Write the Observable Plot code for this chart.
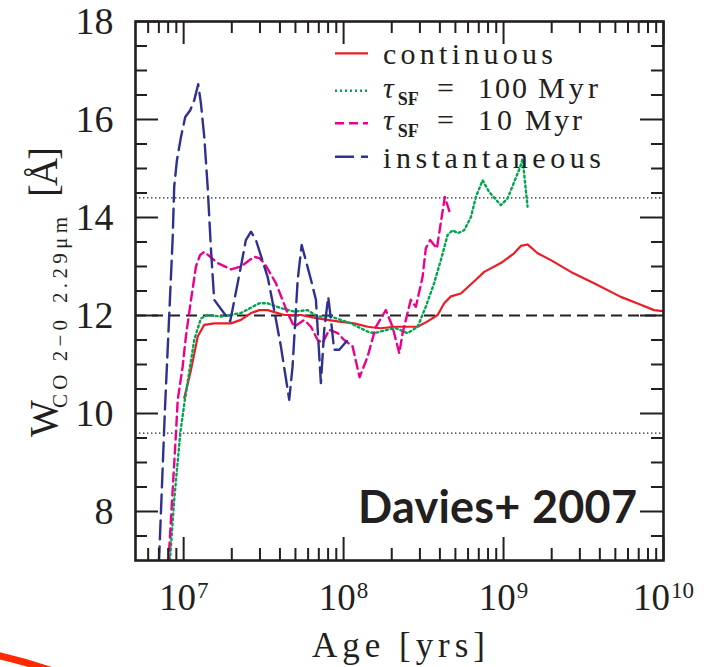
<!DOCTYPE html>
<html>
<head>
<meta charset="utf-8">
<script src="https://cdn.jsdelivr.net/npm/d3@7"></script>
<script src="https://cdn.jsdelivr.net/npm/@observablehq/plot@0.6"></script>
<style>
  html, body { margin: 0; padding: 0; background: #fff; }
  #chart { position: relative; width: 724px; height: 667px; overflow: hidden; }
  #chart svg.deco { position: absolute; left: 0; top: 0; pointer-events: none; }
</style>
</head>
<body>
<div id="chart"></div>
<script>
// CO 2-0 (2.29 micron) equivalent width vs. age for four star-formation histories.
// Ages are given as log10(age / yr); widths in Angstrom.

const continuousLogAge = [7.004, 7.046, 7.088, 7.129, 7.191, 7.296, 7.358, 7.421, 7.473, 7.525, 7.629, 7.733, 7.838, 7.963, 8.066, 8.150, 8.233, 8.316, 8.463, 8.525, 8.588, 8.629, 8.671, 8.733, 8.827, 8.879, 8.983, 9.066, 9.108, 9.150, 9.213, 9.296, 9.421, 9.566, 9.733, 9.858, 9.941, 10.0];
const continuousW      = [10.32, 10.89, 11.57, 11.81, 11.84, 11.84, 11.91, 12.05, 12.11, 12.11, 12.01, 12.01, 11.94, 11.88, 11.84, 11.77, 11.74, 11.77, 11.77, 11.88, 12.01, 12.25, 12.39, 12.45, 12.73, 12.89, 13.07, 13.27, 13.42, 13.45, 13.27, 13.13, 12.89, 12.66, 12.38, 12.22, 12.11, 12.09];

const tau100LogAge = [6.912, 6.941, 6.979, 7.004, 7.066, 7.108, 7.150, 7.233, 7.358, 7.473, 7.525, 7.608, 7.691, 7.775, 7.838, 7.921, 8.046, 8.150, 8.191, 8.275, 8.327, 8.400, 8.463, 8.514, 8.566, 8.608, 8.650, 8.681, 8.714, 8.754, 8.796, 8.827, 8.869, 8.910, 8.983, 9.025, 9.066, 9.104, 9.119, 9.150];
const tau100W      = [6.9, 8.24, 9.6, 10.2, 11.5, 11.94, 12.01, 11.98, 12.05, 12.25, 12.25, 12.15, 12.08, 12.11, 11.98, 11.98, 11.84, 11.67, 11.64, 11.71, 11.74, 11.64, 11.77, 12.18, 12.66, 13.13, 13.64, 13.74, 13.68, 13.74, 14.01, 14.42, 14.76, 14.52, 14.25, 14.39, 14.72, 15.03, 15.20, 14.22];

const tau10LogAge = [6.904, 6.952, 6.963, 6.994, 7.014, 7.046, 7.077, 7.102, 7.129, 7.213, 7.296, 7.358, 7.441, 7.473, 7.504, 7.577, 7.650, 7.691, 7.754, 7.796, 7.838, 7.869, 7.910, 7.963, 8.004, 8.056, 8.100, 8.150, 8.202, 8.264, 8.306, 8.348, 8.369, 8.420, 8.452, 8.494, 8.514, 8.541, 8.583, 8.633, 8.666];
const tau10W      = [6.9, 9.6, 10.28, 10.96, 11.57, 12.32, 13.00, 13.23, 13.30, 13.07, 12.94, 13.00, 13.20, 13.17, 13.07, 12.66, 12.05, 11.77, 11.91, 11.77, 11.50, 11.44, 11.71, 11.64, 11.50, 11.37, 10.74, 11.16, 11.77, 12.11, 11.77, 11.23, 11.64, 12.32, 12.18, 12.79, 13.37, 13.54, 13.37, 14.42, 14.08];

const instLogAge = [6.845, 6.883, 6.931, 6.941, 6.958, 6.983, 7.010, 7.041, 7.066, 7.091, 7.108, 7.129, 7.150, 7.171, 7.191, 7.291, 7.358, 7.389, 7.421, 7.452, 7.525, 7.566, 7.608, 7.660, 7.681, 7.713, 7.738, 7.796, 7.827, 7.858, 7.879, 7.904, 7.921, 7.941, 7.973, 8.020];
const instW      = [6.9, 10.08, 13.54, 14.63, 15.17, 15.64, 16.05, 16.19, 16.39, 16.72, 16.33, 15.64, 14.63, 13.34, 12.32, 11.88, 13.00, 13.54, 13.71, 13.54, 12.79, 12.11, 11.37, 10.28, 10.96, 12.73, 13.44, 12.73, 12.32, 10.62, 11.71, 12.38, 11.91, 11.30, 11.30, 11.48];

// Reference level (solar-metallicity plateau) and its +/-20% band
const fiducialLevel = [12];
const bandLevels = [9.6, 14.4];

// Axis ticks
const xMajorTicks = [1e7, 1e8, 1e9, 1e10];
const xMinorTicks = [6e6, 7e6, 8e6, 9e6,
                     2e7, 3e7, 4e7, 5e7, 6e7, 7e7, 8e7, 9e7,
                     2e8, 3e8, 4e8, 5e8, 6e8, 7e8, 8e8, 9e8,
                     2e9, 3e9, 4e9, 5e9, 6e9, 7e9, 8e9, 9e9];
const yMajorTicks = [8, 10, 12, 14, 16, 18];
const yMinorTicks = [7.5, 8.5, 9, 9.5, 10.5, 11, 11.5, 12.5, 13, 13.5, 14.5, 15, 15.5, 16.5, 17, 17.5];

const ink = "#231f20";
const serif = "'Liberation Serif', 'DejaVu Serif', serif";

const series = [
  {key: "continuous", logAge: continuousLogAge, w: continuousW, color: "#ed1c24", width: 2.2, dash: null},
  {key: "tau100", logAge: tau100LogAge, w: tau100W, color: "#00a651", width: 2.4, dash: "2,3"},
  {key: "tau10", logAge: tau10LogAge, w: tau10W, color: "#ec008c", width: 2.4, dash: "9,5"},
  {key: "instantaneous", logAge: instLogAge, w: instW, color: "#2e3192", width: 2.4, dash: "19,7"}
];

const toRows = s => s.logAge.map((a, i) => ({age: Math.pow(10, a), w: s.w[i]}));

const W = 724, H = 667;
const margin = {top: 21, right: 61, bottom: 107, left: 135};
const innerW = W - margin.left - margin.right;
const innerH = H - margin.top - margin.bottom;
const majorLen = 23, minorLen = 12;

const tickStyle = {stroke: ink, strokeWidth: 2};

const svg = Plot.plot({
  width: W,
  height: H,
  marginTop: margin.top,
  marginRight: margin.right,
  marginBottom: margin.bottom,
  marginLeft: margin.left,
  style: {fontFamily: serif, color: ink, background: "#fff"},
  x: {type: "log", domain: [5e6, 1e10]},
  y: {domain: [7, 18]},
  marks: [
    Plot.ruleY(bandLevels, {stroke: ink, strokeWidth: 1.4, strokeDasharray: "1.4,2.6"}),
    Plot.ruleY(fiducialLevel, {stroke: ink, strokeWidth: 2, strokeDasharray: "11,6"}),
    ...series.map(s => Plot.line(toRows(s), {
      x: "age", y: "w", stroke: s.color, strokeWidth: s.width,
      strokeDasharray: s.dash, strokeLinejoin: "round", clip: true
    })),
    // inward ticks on all four sides
    Plot.ruleX(xMajorTicks, {...tickStyle, insetTop: innerH - majorLen}),
    Plot.ruleX(xMajorTicks, {...tickStyle, insetBottom: innerH - majorLen}),
    Plot.ruleX(xMinorTicks, {...tickStyle, insetTop: innerH - minorLen}),
    Plot.ruleX(xMinorTicks, {...tickStyle, insetBottom: innerH - minorLen}),
    Plot.ruleY(yMajorTicks, {...tickStyle, insetRight: innerW - majorLen}),
    Plot.ruleY(yMajorTicks, {...tickStyle, insetLeft: innerW - majorLen}),
    Plot.ruleY(yMinorTicks, {...tickStyle, insetRight: innerW - minorLen}),
    Plot.ruleY(yMinorTicks, {...tickStyle, insetLeft: innerW - minorLen}),
    Plot.frame({stroke: ink, strokeWidth: 2.6}),
    Plot.axisY({ticks: yMajorTicks, anchor: "left", tickSize: 0, tickPadding: 22,
                fontSize: 38, label: null, tickFormat: d => String(d)}),
    Plot.axisX({ticks: xMajorTicks, anchor: "bottom", tickSize: 0, tickPadding: 23,
                fontSize: 37, label: null,
                tickFormat: d => "10^" + Math.round(Math.log10(d))})
  ]
});

const NS = "http://www.w3.org/2000/svg";

// Turn "10^7" labels into a base with a raised exponent
svg.querySelectorAll('g[aria-label="x-axis tick label"] text').forEach(t => {
  const [base, exp] = t.textContent.split("^");
  t.textContent = base;
  const sup = document.createElementNS(NS, "tspan");
  sup.setAttribute("font-size", 23);
  sup.setAttribute("dy", -12);
  sup.setAttribute("dx", 1);
  sup.textContent = exp;
  t.appendChild(sup);
});

const root = d3.select(svg);
const ann = root.append("g").attr("fill", ink).attr("font-family", serif)
  .attr("text-anchor", "start");

// y-axis title: W_{CO 2-0  2.29 um} [Å]
ann.append("text").attr("transform", "translate(57,437) rotate(-90)")
  .attr("font-size", 39).text("W");
ann.append("text").attr("transform", "translate(67,408) rotate(-90)")
  .attr("font-size", 21).attr("textLength", 88).attr("lengthAdjust", "spacing").text("CO 2−0");
ann.append("text").attr("transform", "translate(67,303) rotate(-90)")
  .attr("font-size", 21).attr("textLength", 86).attr("lengthAdjust", "spacing").text("2.29μm");
ann.append("text").attr("transform", "translate(57,197) rotate(-90)")
  .attr("font-size", 39).attr("textLength", 50).attr("lengthAdjust", "spacing").text("[Å]");

// x-axis title
ann.append("text").attr("x", 398.5).attr("y", 657).attr("text-anchor", "middle")
  .attr("font-size", 35).attr("textLength", 173).attr("lengthAdjust", "spacing").text("Age [yrs]");

// Source tag
ann.append("text").attr("x", 358).attr("y", 523)
  .attr("font-family", "Lato, 'Open Sans', sans-serif").attr("font-weight", 700)
  .attr("font-size", 45).attr("textLength", 279).attr("lengthAdjust", "spacing")
  .text("Davies+ 2007");

// Legend
const legendRows = [
  {s: series[0], ly: 53.3, by: 64.3},
  {s: series[1], ly: 90.7, by: 98.3, n: "100"},
  {s: series[2], ly: 123.3, by: 130, n: "10"},
  {s: series[3], ly: 156.7, by: 168}
];
const lg = root.append("g").attr("font-family", serif).attr("fill", ink)
  .attr("text-anchor", "start");
legendRows.forEach(r => {
  lg.append("line").attr("x1", 335).attr("x2", 368).attr("y1", r.ly).attr("y2", r.ly)
    .attr("stroke", r.s.color).attr("stroke-width", r.s.width)
    .attr("stroke-dasharray", r.s.dash);
  if (r.n === undefined) {
    const len = r.s.key === "continuous" ? 170 : 218;
    lg.append("text").attr("x", 383).attr("y", r.by).attr("font-size", 30)
      .attr("textLength", len).attr("lengthAdjust", "spacing").text(r.s.key);
  } else {
    // tau with its SF subscript as one text element
    const t = lg.append("text").attr("x", 383).attr("y", r.by).attr("font-size", 30);
    t.append("tspan").attr("font-style", "italic").text("τ");
    t.append("tspan").attr("dx", 4).attr("dy", 7).attr("font-size", 18)
      .attr("font-weight", 700).text("SF");
    lg.append("text").attr("x", 437).attr("y", r.by).attr("font-size", 30).text("=");
    lg.append("text").attr("x", 478).attr("y", r.by).attr("font-size", 30)
      .attr("textLength", r.n.length === 3 ? 49 : 34).attr("lengthAdjust", "spacing").text(r.n);
    lg.append("text").attr("x", r.n.length === 3 ? 538 : 525).attr("y", r.by).attr("font-size", 30)
      .attr("textLength", r.n.length === 3 ? 60 : 57).attr("lengthAdjust", "spacing").text("Myr");
  }
});

const chart = document.getElementById("chart");
chart.appendChild(svg);

// Slide accent stroke in the lower-left corner
const deco = d3.select(chart).append("svg").attr("class", "deco")
  .attr("width", W).attr("height", H);
deco.append("path").attr("d", "M-4,655 Q22,661 50,670")
  .attr("fill", "none").attr("stroke", "#ff2a00").attr("stroke-width", 7);
</script>
</body>
</html>
